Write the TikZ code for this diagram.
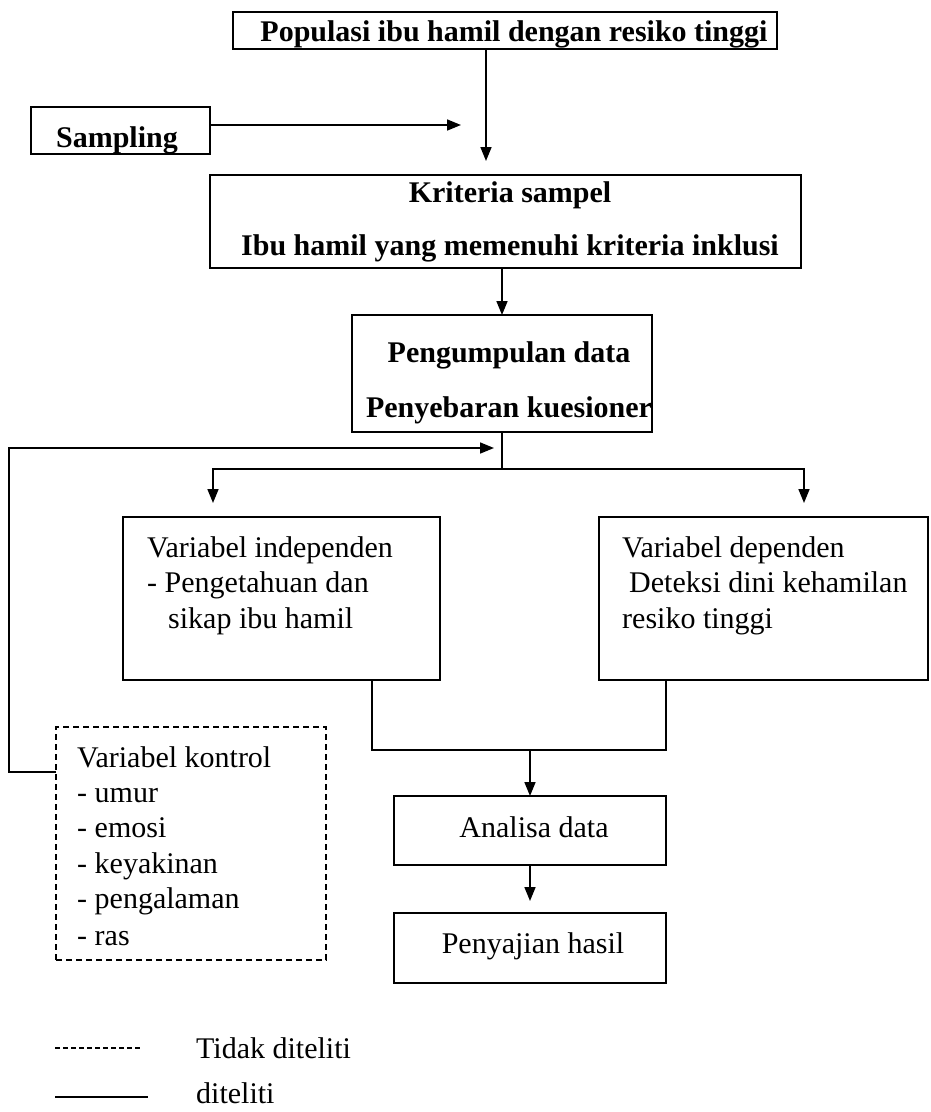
\documentclass[tikz,border=0pt]{standalone}
\usepackage{fontspec}
\setmainfont{Liberation Serif}
\usetikzlibrary{arrows.meta}
\tikzset{
  box/.style={draw, line width=1.7pt, inner sep=0pt, outer sep=0pt},
  dbox/.style={box, line width=1.3pt, dash pattern=on 6pt off 4pt},
  txt/.style={inner sep=0pt, anchor=base west, font=\fontsize{30}{36}\selectfont},
  btxt/.style={inner sep=0pt, anchor=base, font=\fontsize{30}{36}\selectfont\bfseries},
  ctxt/.style={inner sep=0pt, anchor=base, font=\fontsize{30}{36}\selectfont},
  conn/.style={line width=1.7pt},
  arr/.style={conn, -{Triangle[length=14pt,width=11pt]}},
}
\begin{document}
\begin{tikzpicture}[x=1pt,y=-1pt]
\useasboundingbox (0,0) rectangle (930,1112);
% boxes
\node[box, minimum width=544pt, minimum height=37pt] (pop) at (505,30.5) {};
\node[box, minimum width=179pt, minimum height=47pt] (samp) at (120.5,130.5) {};
\node[box, minimum width=591pt, minimum height=93pt] (krit) at (505.5,221.5) {};
\node[box, minimum width=300pt, minimum height=117pt] (peng) at (502,373.5) {};
\node[box, minimum width=317pt, minimum height=163pt] (ind) at (281.5,598.5) {};
\node[box, minimum width=329pt, minimum height=163pt] (dep) at (763.5,598.5) {};
\node[box, minimum width=272pt, minimum height=69pt] (ana) at (530,830.5) {};
\node[box, minimum width=272pt, minimum height=70pt] (pen) at (530,948) {};
\node[dbox, minimum width=270pt, minimum height=233pt] (ctrl) at (191,843.5) {};
% texts
\node[btxt] (tpop) at (514,41) {Populasi ibu hamil dengan resiko tinggi};
\node[btxt] (tsamp) at (117,147) {Sampling};
\node[btxt] (tkrit1) at (510,202) {Kriteria sampel};
\node[btxt] (tkrit2) at (510,255) {Ibu hamil yang memenuhi kriteria inklusi};
\node[btxt] (tpeng1) at (509,362) {Pengumpulan data};
\node[btxt] (tpeng2) at (509,417) {Penyebaran kuesioner};
\node[txt] (tind1) at (147,557) {Variabel independen};
\node[txt] (tind2) at (147,592) {- Pengetahuan dan};
\node[txt] (tind3) at (168,628) {sikap ibu hamil};
\node[txt] (tdep1) at (622,557) {Variabel dependen};
\node[txt] (tdep2) at (629,592) {Deteksi dini kehamilan};
\node[txt] (tdep3) at (622,628) {resiko tinggi};
\node[txt] (tc1) at (77,767) {Variabel kontrol};
\node[txt] (tc2) at (77,802) {- umur};
\node[txt] (tc3) at (77,837) {- emosi};
\node[txt] (tc4) at (77,873) {- keyakinan};
\node[txt] (tc5) at (77,908) {- pengalaman};
\node[txt] (tc6) at (77,945) {- ras};
\node[ctxt] (tana) at (534,837) {Analisa data};
\node[ctxt] (tpen) at (533,953) {Penyajian hasil};
% legend
\coordinate (ld1) at (55,1048);
\coordinate (ld2) at (141,1048);
\coordinate (ls1) at (55,1097);
\coordinate (ls2) at (148,1097);
\draw[line width=1.2pt, dash pattern=on 5pt off 3pt] (ld1) -- (ld2);
\draw[conn] (ls1) -- (ls2);
\node[txt] (tl1) at (196,1058) {Tidak diteliti};
\node[txt] (tl2) at (196,1103) {diteliti};
% connectors
\coordinate (c1) at (486,161);
\draw[arr] (pop.south -| c1) -- (c1);
\coordinate (c2) at (461,125);
\draw[arr] (samp.east |- c2) -- (c2);
\draw[arr] (krit.south -| peng.north) -- (peng.north);
\coordinate (jn) at (502,469);
\coordinate (tl) at (213,503);
\coordinate (tr) at (804,503);
\draw[conn] (peng.south) -- (jn);
\draw[arr] (jn) -| (tl);
\draw[arr] (jn) -| (tr);
\coordinate (fs) at (56,772);
\coordinate (fb) at (9,448);
\coordinate (ft) at (494,448);
\draw[arr] (ctrl.west |- fs) -| (fb) -- (ft);
\coordinate (mi) at (372,750);
\coordinate (md) at (666,750);
\draw[conn] (ind.south -| mi) -- (mi) -- (md) -- (dep.south -| md);
\draw[arr] (ana.north |- mi) -- (ana.north);
\coordinate (c3) at (530,901);
\draw[arr] (ana.south) -- (c3);
\end{tikzpicture}
\end{document}
